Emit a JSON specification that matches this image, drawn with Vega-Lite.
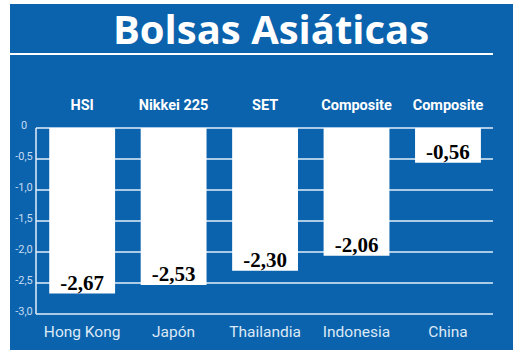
{
  "$schema": "https://vega.github.io/schema/vega-lite/v6.json",
  "width": 503,
  "height": 346,
  "autosize": {"type": "none"},
  "padding": {"left": 10, "top": 4, "right": 7, "bottom": 4},
  "background": "white",
  "config": {
    "view": {"fill": "#0b63ad", "stroke": null},
    "locale": {"number": {"decimal": ",", "thousands": ".", "grouping": [3], "currency": ["", " €"], "minus": "-"}}
  },
  "datasets": {
    "bolsas": [
      {"pais": "Hong Kong", "indice": "HSI", "variacion": -2.67},
      {"pais": "Japón", "indice": "Nikkei 225", "variacion": -2.53},
      {"pais": "Thailandia", "indice": "SET", "variacion": -2.30},
      {"pais": "Indonesia", "indice": "Composite", "variacion": -2.06},
      {"pais": "China", "indice": "Composite", "variacion": -0.56}
    ],
    "rejilla": [
      {"nivel": 0, "etiqueta": "0"},
      {"nivel": -0.5, "etiqueta": "-0,5"},
      {"nivel": -1.0, "etiqueta": "-1,0"},
      {"nivel": -1.5, "etiqueta": "-1,5"},
      {"nivel": -2.0, "etiqueta": "-2,0"},
      {"nivel": -2.5, "etiqueta": "-2,5"},
      {"nivel": -3.0, "etiqueta": "-3,0"}
    ],
    "titulo": [{"texto": "Bolsas Asiáticas"}]
  },
  "layer": [
    {
      "layer": [
        {
          "data": {"name": "rejilla"},
          "mark": {"type": "rule", "color": "#e3eefa", "strokeWidth": 1.5},
          "encoding": {
            "y": {"field": "nivel", "type": "quantitative", "scale": {"domain": [-3.58, 2], "nice": false, "zero": false}, "axis": null},
            "x": {"datum": 0.0517, "type": "quantitative", "scale": {"domain": [0, 1], "nice": false, "zero": false}, "axis": null},
            "x2": {"datum": 0.9602}
          }
        },
        {
          "data": {"name": "rejilla"},
          "mark": {"type": "text", "color": "#c4dbf2", "font": "Roboto", "fontSize": 11, "align": "center", "baseline": "middle", "dy": -2},
          "encoding": {
            "text": {"field": "etiqueta"},
            "y": {"field": "nivel", "type": "quantitative", "scale": {"domain": [-3.58, 2], "nice": false, "zero": false}, "axis": null},
            "x": {"datum": 0.0278, "type": "quantitative", "scale": {"domain": [0, 1], "nice": false, "zero": false}, "axis": null}
          }
        },
        {
          "data": {"name": "titulo"},
          "mark": {"type": "rule", "color": "#e3eefa", "strokeWidth": 1.5},
          "encoding": {
            "y": {"datum": 0, "type": "quantitative", "axis": null},
            "y2": {"datum": -3},
            "x": {"datum": 0.0517, "type": "quantitative", "scale": {"domain": [0, 1], "nice": false, "zero": false}, "axis": null}
          }
        },
        {
          "data": {"name": "titulo"},
          "mark": {"type": "rule", "color": "white", "strokeWidth": 2},
          "encoding": {
            "y": {"datum": 1.194, "type": "quantitative", "axis": null},
            "x": {"datum": 0, "type": "quantitative", "scale": {"domain": [0, 1], "nice": false, "zero": false}, "axis": null},
            "x2": {"datum": 0.9602}
          }
        },
        {
          "data": {"name": "titulo"},
          "mark": {"type": "text", "color": "white", "font": "Open Sans", "fontWeight": "bold", "fontSize": 40, "align": "center", "baseline": "alphabetic"},
          "encoding": {
            "text": {"field": "texto"},
            "y": {"datum": 1.355, "type": "quantitative", "axis": null},
            "x": {"datum": 0.519, "type": "quantitative", "scale": {"domain": [0, 1], "nice": false, "zero": false}, "axis": null}
          }
        }
      ]
    },
    {
      "data": {"name": "bolsas"},
      "encoding": {
        "x": {
          "field": "pais", "type": "nominal", "sort": null,
          "scale": {"paddingInner": 0.28, "paddingOuter": 0.39, "align": 0.55},
          "axis": {
            "orient": "bottom", "title": null, "offset": -19, "labelAngle": 0,
            "labelBaseline": "middle", "labelPadding": 0, "ticks": false, "domain": false, "grid": false,
            "labelFont": "Roboto", "labelFontSize": 15.5, "labelColor": "#dce9f6"
          }
        }
      },
      "layer": [
        {
          "mark": {"type": "bar", "color": "white"},
          "encoding": {
            "y": {"field": "variacion", "type": "quantitative", "scale": {"domain": [-3.58, 2], "nice": false, "zero": false}, "axis": null},
            "y2": {"datum": 0}
          }
        },
        {
          "mark": {"type": "text", "color": "black", "font": "Liberation Serif", "fontWeight": "bold", "fontSize": 21, "align": "center", "baseline": "alphabetic", "dy": -4},
          "encoding": {
            "y": {"field": "variacion", "type": "quantitative", "scale": {"domain": [-3.58, 2], "nice": false, "zero": false}, "axis": null},
            "text": {"field": "variacion", "type": "quantitative", "format": ".2f"}
          }
        },
        {
          "mark": {"type": "text", "color": "white", "font": "Roboto", "fontWeight": "bold", "fontSize": 14.5, "align": "center", "baseline": "alphabetic"},
          "encoding": {
            "y": {"datum": 0.29, "type": "quantitative", "axis": null},
            "text": {"field": "indice"}
          }
        }
      ]
    }
  ],
  "resolve": {"scale": {"x": "independent"}}
}
